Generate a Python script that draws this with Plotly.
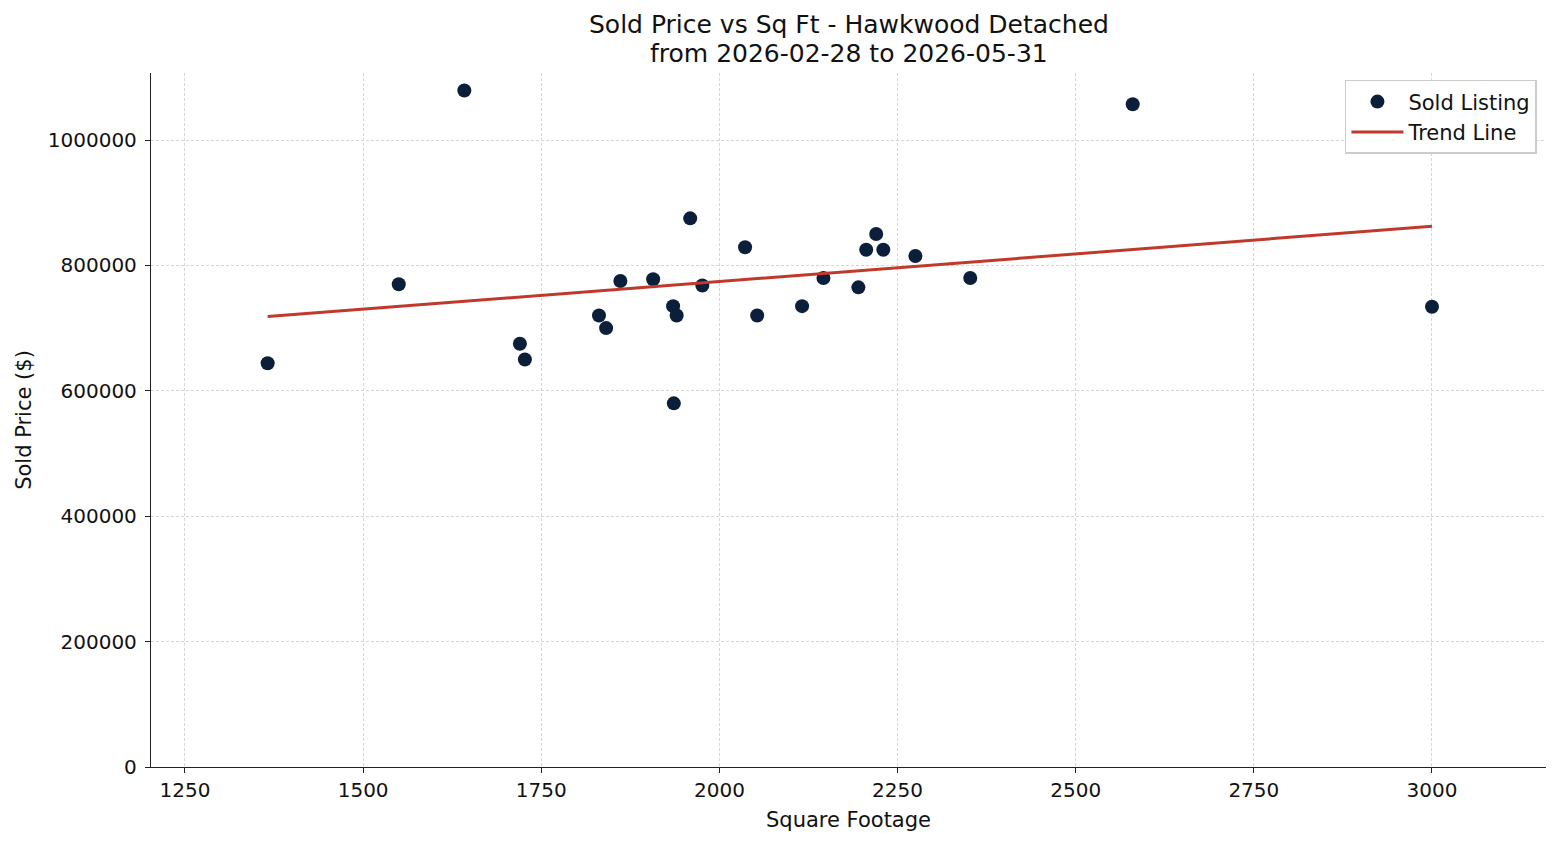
import numpy as np
import plotly.graph_objects as go

# Data
sqft = [1366, 1550, 1642, 1720, 1727, 1831, 1841, 1861, 1907, 1935, 1940, 1936,
        1959, 1976, 2036, 2053, 2116, 2146, 2195, 2206, 2220, 2230, 2275, 2352,
        2580, 3000]
price = [644000, 770000, 1079000, 675000, 650000, 720000, 700000, 775000, 778000,
         735000, 720000, 580000, 875000, 768000, 829000, 720000, 735000, 780000,
         765000, 825000, 850000, 825000, 815000, 780000, 1057000, 734000]

title_lines = ["Sold Price vs Sq Ft - Hawkwood Detached", "from 2026-02-28 to 2026-05-31"]
x_ticks = [1250, 1500, 1750, 2000, 2250, 2500, 2750, 3000]
y_ticks = [0, 200000, 400000, 600000, 800000, 1000000]

# Trend line: least-squares fit over the data
slope, intercept = np.polyfit(sqft, price, 1)
trend_x = [min(sqft), max(sqft)]
trend_y = [slope * v + intercept for v in trend_x]

FONT = "DejaVu Sans"
TXT = "#111111"
fig = go.Figure()
fig.add_trace(go.Scatter(
    x=sqft, y=price, mode="markers", name="Sold Listing",
    marker=dict(color="#0b1f3a", size=14, line=dict(width=0)),
))
fig.add_trace(go.Scatter(
    x=trend_x, y=trend_y, mode="lines", name="Trend Line",
    line=dict(color="#c0392b", width=3),
))

# Two-line title as annotations
for text, ypos in zip(title_lines, [1.0692, 1.0274]):
    fig.add_annotation(text=text, xref="paper", yref="paper", x=0.5, y=ypos,
                       xanchor="center", yanchor="middle", showarrow=False,
                       font=dict(family=FONT, size=25, color=TXT))

grid = dict(showgrid=True, gridcolor="#d6d6d6", gridwidth=0.8, griddash="3px,2px")
fig.update_layout(
    width=1560, height=845,
    margin=dict(l=151, r=14, t=73, b=78),
    paper_bgcolor="white", plot_bgcolor="white",
    font=dict(family=FONT, size=20, color=TXT),
    xaxis=dict(range=[1202.3, 3160], tickvals=x_ticks, ticks="outside", ticklen=5,
               tickwidth=1.2, tickcolor="#222", showline=True, linecolor="#222",
               linewidth=1.3, zeroline=False, tickfont=dict(size=20),
               title=dict(text="Square Footage", font=dict(size=21), standoff=11),
               **grid),
    yaxis=dict(range=[0, 1106858], tickvals=y_ticks, tickformat="d", ticks="outside",
               ticklen=5, tickwidth=1.2, tickcolor="#222", showline=True,
               linecolor="#222", linewidth=1.3, zeroline=False, tickfont=dict(size=20),
               ticklabelstandoff=4,
               title=dict(text="Sold Price ($)", font=dict(size=21), standoff=10),
               **grid),
    legend=dict(x=0.9935, xanchor="right", y=0.99, yanchor="top",
                bgcolor="rgba(255,255,255,0.9)", bordercolor="#cccccc", borderwidth=1.5,
                font=dict(size=21), itemwidth=52, tracegroupgap=2),
    showlegend=True,
)

fig.write_html("out.html")
